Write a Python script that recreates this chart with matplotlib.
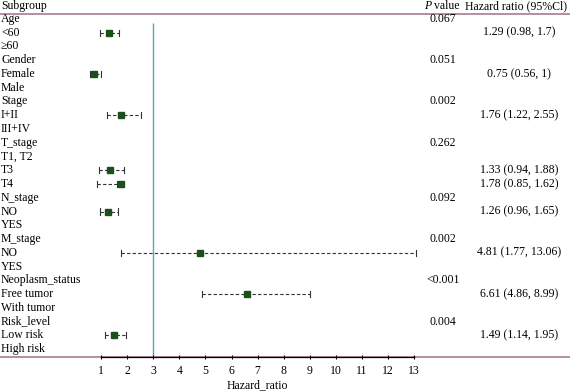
import numpy as np
import matplotlib.pyplot as plt

labels = ["Age", "<60", "\u226560", "Gender", "Female", "Male", "Stage", "I+II", "III+IV",
          "T_stage", "T1, T2", "T3", "T4", "N_stage", "NO", "YES", "M_stage", "NO", "YES",
          "Neoplasm_status", "Free tumor", "With tumor", "Risk_level", "Low risk", "High risk"]

# group header rows -> p value
p_rows = [0, 3, 6, 9, 13, 16, 19, 22]
p_vals = ["0.067", "0.051", "0.002", "0.262", "0.092", "0.002", "<0.001", "0.004"]

# rows that carry an estimate
hr_rows = [1, 4, 7, 11, 12, 14, 17, 20, 23]
hr = [1.29, 0.75, 1.76, 1.33, 1.78, 1.26, 4.81, 6.61, 1.49]
lo = [0.98, 0.56, 1.22, 0.94, 0.85, 0.96, 1.77, 4.86, 1.14]
hi = [1.7, 1.0, 2.55, 1.88, 1.62, 1.65, 13.06, 8.99, 1.95]
hr_text = ["1.29 (0.98, 1.7)", "0.75 (0.56, 1)", "1.76 (1.22, 2.55)", "1.33 (0.94, 1.88)",
           "1.78 (0.85, 1.62)", "1.26 (0.96, 1.65)", "4.81 (1.77, 13.06)",
           "6.61 (4.86, 8.99)", "1.49 (1.14, 1.95)"]
ticks = list(range(1, 14))

plt.rcParams['font.family'] = ['Liberation Serif', 'DejaVu Serif']
fs = 8.5
pink = '#a87a95'
green = '#1d4f1d'

fig = plt.figure(figsize=(5.7, 3.91), dpi=100)
ax = fig.add_axes([0, 34 / 391, 1, 357 / 391])

W = 570.0
x0 = 1 - 101 / 26.1
x1 = 1 + (W - 101) / 26.1
ax.set_xlim(x0, x1)
ax.set_ylim(24.58, -1.38)

# CI upper can be below estimate (T4); keep lines as drawn from lo to hi
for y, h, l, u in zip(hr_rows, hr, lo, hi):
    ax.plot([l, u], [y, y], ls=(0, (3, 2)), color='#333333', lw=0.8, zorder=2)
    ax.plot([l, l], [y - 0.22, y + 0.22], color='#333333', lw=0.8, zorder=2)
    ax.plot([u, u], [y - 0.22, y + 0.22], color='#333333', lw=0.8, zorder=2)
ax.plot(hr, hr_rows, 's', color=green, ms=5, zorder=3, ls='none')

ax.vlines(3, 0.3, 24.58, color='#5aa7b4', lw=1.0, zorder=1)

# spines and ticks
for s in ['top', 'left', 'right']:
    ax.spines[s].set_visible(False)
ax.spines['bottom'].set_bounds(1, 13)
ax.spines['bottom'].set_linewidth(0.9)
ax.spines['bottom'].set_zorder(4)
ax.axhline(24.58, color=pink, lw=1.2, clip_on=False, zorder=0)
ax.set_yticks([])
ax.set_xticks(ticks)
ax.tick_params(axis='x', length=3, width=0.8, labelsize=fs, pad=4, direction='inout')
ax.annotate("Hazard_ratio", xy=(7, 0), xycoords=('data', 'axes fraction'),
            xytext=(0, -16), textcoords='offset points', ha='center', va='top', fontsize=fs)

# table text
tr = ax.get_yaxis_transform()
for i, lab in enumerate(labels):
    ax.text(1 / W, i, lab, transform=tr, ha='left', va='center', fontsize=fs)
for r, p in zip(p_rows, p_vals):
    ax.text(443 / W, r, p, transform=tr, ha='center', va='center', fontsize=fs)
for r, t in zip(hr_rows, hr_text):
    ax.text(519 / W, r, t, transform=tr, ha='center', va='center', fontsize=fs)

ax.text(1 / W, -0.95, "Subgroup", transform=tr, ha='left', va='center', fontsize=fs)
ax.text(431 / W, -0.95, "P", transform=tr, ha='right', va='center', fontsize=fs, style='italic')
ax.text(434 / W, -0.95, "value", transform=tr, ha='left', va='center', fontsize=fs)
ax.text(516 / W, -0.95, "Hazard ratio (95%Cl)", transform=tr, ha='center', va='center', fontsize=fs)
ax.axhline(-0.33, color=pink, lw=1.2, clip_on=False, zorder=0)

fig.savefig("out.png", dpi=100)
